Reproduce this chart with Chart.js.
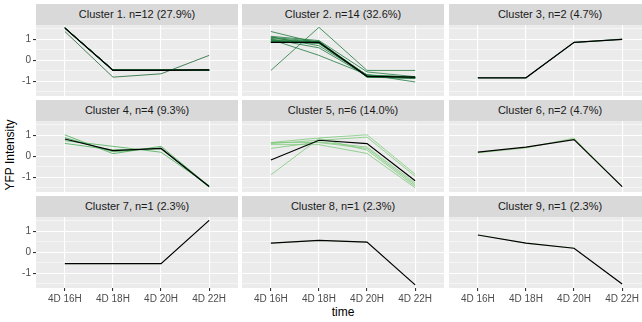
<!DOCTYPE html>
<html>
<head>
<meta charset="utf-8">
<script src="https://cdn.jsdelivr.net/npm/chart.js@4.4.0/dist/chart.umd.min.js"></script>
<style>
body { margin: 0; background: #fff; }
#wrap { position: relative; width: 642px; height: 322px; overflow: hidden; font-family: "Liberation Sans", Arial, sans-serif; }
.strip { position: absolute; height: 21px; line-height: 21px; background: #d9d9d9; color: #1a1a1a; font-size: 11px; text-align: center; white-space: nowrap; }
.box { position: absolute; }
#xtitle { position: absolute; left: 243px; width: 200px; top: 305px; text-align: center; font-size: 12px; color: #000; }
#ytitle { position: absolute; left: -40px; top: 148px; width: 100px; text-align: center; font-size: 12px; color: #000; transform: rotate(-90deg); }
</style>
</head>
<body>
<div id="wrap">
  <div id="xtitle">time</div>
  <div id="ytitle">YFP Intensity</div>
</div>
<script>
const timeLabels = ['4D 16H', '4D 18H', '4D 20H', '4D 22H'];
const yTicks = [-1.5, -1, -0.5, 0, 0.5, 1, 1.5];
const clusterTitles = [
    'Cluster 1. n=12 (27.9%)', 'Cluster 2. n=14 (32.6%)', 'Cluster 3, n=2 (4.7%)',
    'Cluster 4, n=4 (9.3%)', 'Cluster 5, n=6 (14.0%)', 'Cluster 6, n=2 (4.7%)',
    'Cluster 7, n=1 (2.3%)', 'Cluster 8, n=1 (2.3%)', 'Cluster 9, n=1 (2.3%)'
];
const memberColors = ['#1b6332', '#1f7a3c', '#2a8544', '#45b058', '#7cc97a', '#98d68e', '#b0e0a4', '#b0e0a4', '#b0e0a4'];

const c1Members = [
    [1.56, -0.45, -0.45, -0.46], [1.55, -0.46, -0.47, -0.47], [1.54, -0.47, -0.46, -0.48],
    [1.56, -0.45, -0.46, -0.46], [1.55, -0.46, -0.45, -0.47], [1.53, -0.47, -0.47, -0.48],
    [1.56, -0.46, -0.46, -0.47], [1.55, -0.45, -0.47, -0.46], [1.54, -0.46, -0.46, -0.48],
    [1.56, -0.47, -0.45, -0.47], [1.55, -0.46, -0.46, -0.46], [1.38, -0.80, -0.64, 0.24]
];
const c1Mean = [1.54, -0.48, -0.48, -0.45];

const c2Members = [
    [1.38, 0.82, -0.70, -0.80], [-0.48, 1.58, -0.48, -0.48], [1.00, 0.24, -0.68, -1.03],
    [1.15, 0.95, -0.55, -0.78], [1.10, 0.90, -0.72, -0.82], [1.05, 0.86, -0.75, -0.84],
    [0.98, 0.88, -0.78, -0.82], [0.95, 0.84, -0.80, -0.86], [0.92, 0.80, -0.76, -0.80],
    [0.88, 0.86, -0.74, -0.83], [0.86, 0.90, -0.80, -0.84], [1.12, 0.70, -0.70, -0.80],
    [0.90, 0.92, -0.78, -0.85], [1.02, 0.60, -0.74, -0.82]
];
const c2Mean = [0.86, 0.86, -0.76, -0.80];

const c3Members = [[-0.83, -0.83, 0.86, 1.00], [-0.83, -0.83, 0.85, 1.02]];
const c3Mean = [-0.83, -0.83, 0.86, 1.00];

const c4Members = [
    [1.03, 0.13, 0.48, -1.42], [0.62, 0.31, 0.36, -1.47],
    [0.75, 0.48, 0.20, -1.40], [0.90, 0.22, 0.40, -1.45]
];
const c4Mean = [0.83, 0.28, 0.38, -1.44];

const c5Members = [
    [0.66, 0.88, 1.03, -0.85], [0.61, 0.77, 0.92, -0.95], [0.38, 0.69, 0.45, -1.27],
    [-0.88, 0.85, 0.30, -1.42], [0.56, 0.56, 0.14, -1.50], [0.66, 0.66, 0.38, -1.35]
];
const c5Mean = [-0.17, 0.77, 0.61, -1.16];

const c6Members = [[0.18, 0.42, 0.84, -1.44], [0.17, 0.40, 0.88, -1.46]];
const c6Mean = [0.20, 0.44, 0.80, -1.44];

const c7Members = [[-0.54, -0.54, -0.54, 1.53]];
const c7Mean = [-0.54, -0.54, -0.54, 1.53];

const c8Members = [[0.44, 0.57, 0.49, -1.55]];
const c8Mean = [0.44, 0.57, 0.49, -1.55];

const c9Members = [[0.83, 0.44, 0.20, -1.51]];
const c9Mean = [0.83, 0.44, 0.20, -1.51];

const clusters = [
    [c1Members, c1Mean], [c2Members, c2Mean], [c3Members, c3Mean],
    [c4Members, c4Mean], [c5Members, c5Mean], [c6Members, c6Mean],
    [c7Members, c7Mean], [c8Members, c8Mean], [c9Members, c9Mean]
];

const colLeft = [36, 242, 449];
const rowTop = [4, 100, 196];
const stripH = 21, plotW = 202, plotH = 71, yAxisW = 36, xAxisH = 22;
const fontFamily = '"Liberation Sans", Arial, sans-serif';

// grey panel background like ggplot
const panelBg = {
    id: 'panelBg',
    beforeDraw(chart) {
        const { ctx, chartArea: a } = chart;
        ctx.save();
        ctx.fillStyle = '#ebebeb';
        ctx.fillRect(a.left, a.top, a.right - a.left, a.bottom - a.top);
        ctx.restore();
    }
};

function toPoints(values) {
    return values.map((v, k) => ({ x: k, y: v }));
}

const wrap = document.getElementById('wrap');

clusters.forEach(([members, mean], i) => {
    const row = Math.floor(i / 3);
    const col = i % 3;

    const strip = document.createElement('div');
    strip.className = 'strip';
    strip.style.left = colLeft[col] + 'px';
    strip.style.top = rowTop[row] + 'px';
    strip.style.width = plotW + 'px';
    strip.textContent = clusterTitles[i];
    wrap.appendChild(strip);

    const leftW = col === 0 ? yAxisW : 0;
    const bottomH = row === 2 ? xAxisH : 0;
    const box = document.createElement('div');
    box.className = 'box';
    box.style.left = (colLeft[col] - leftW) + 'px';
    box.style.top = (rowTop[row] + stripH) + 'px';
    const canvas = document.createElement('canvas');
    canvas.width = plotW + leftW;
    canvas.height = plotH + bottomH;
    box.appendChild(canvas);
    wrap.appendChild(box);

    const datasets = [{
        data: toPoints(mean),
        borderColor: '#000',
        borderWidth: 1.2,
        pointRadius: 0
    }];
    members.forEach(m => {
        datasets.push({
            data: toPoints(m),
            borderColor: memberColors[i],
            borderWidth: 0.8,
            pointRadius: 0
        });
    });

    new Chart(canvas.getContext('2d'), {
        type: 'line',
        data: { datasets: datasets },
        plugins: [panelBg],
        options: {
            responsive: false,
            animation: false,
            devicePixelRatio: 1,
            layout: { padding: 0 },
            plugins: { legend: { display: false }, tooltip: { enabled: false } },
            scales: {
                x: {
                    type: 'linear',
                    min: -0.6,
                    max: 3.6,
                    afterBuildTicks: s => { s.ticks = timeLabels.map((_, k) => ({ value: k })); },
                    afterFit: s => {
                        s.height = bottomH;
                        s.paddingLeft = 0;
                        s.paddingRight = 0;
                    },
                    border: { display: false },
                    grid: { color: '#ffffff', lineWidth: 1.1, drawTicks: row === 2, tickLength: 3, tickColor: '#333333' },
                    ticks: {
                        display: row === 2,
                        callback: v => timeLabels[v],
                        color: '#4d4d4d',
                        font: { size: 10, family: fontFamily },
                        padding: 2,
                        maxRotation: 0,
                        autoSkip: false
                    }
                },
                y: {
                    min: -1.7,
                    max: 1.69,
                    afterBuildTicks: s => { s.ticks = yTicks.map(v => ({ value: v })); },
                    afterFit: s => {
                        s.width = leftW;
                        s.paddingTop = 0;
                        s.paddingBottom = 0;
                    },
                    border: { display: false },
                    grid: {
                        color: '#ffffff',
                        lineWidth: ctx => Number.isInteger(ctx.tick.value) ? 1.1 : 0.5,
                        drawTicks: col === 0,
                        tickLength: 3,
                        tickColor: ctx => Number.isInteger(ctx.tick.value) ? '#333333' : 'rgba(0,0,0,0)'
                    },
                    ticks: {
                        display: col === 0,
                        autoSkip: false,
                        callback: v => Number.isInteger(v) ? String(v) : '',
                        color: '#4d4d4d',
                        font: { size: 10, family: fontFamily },
                        padding: 2
                    }
                }
            }
        }
    });
});
</script>
</body>
</html>
